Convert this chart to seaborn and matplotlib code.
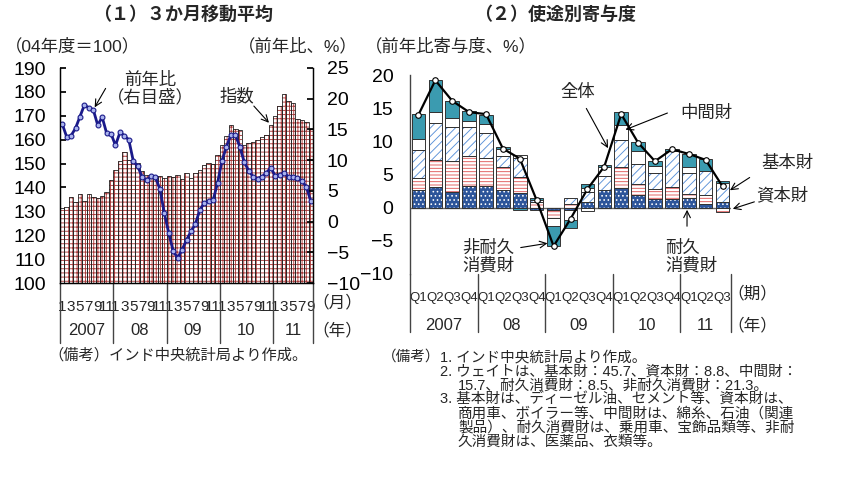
import numpy as np
import matplotlib
matplotlib.use("Agg")
import matplotlib.pyplot as plt
import matplotlib.transforms as mtransforms
import seaborn as sns

# ---- left panel: industrial production index (monthly, 2007/1 - 2011/9)
index_level = [131.4, 132.0, 136.2, 133.7, 137.1, 134.2, 137.2, 136.2, 135.5, 136.5, 137.9, 143.2,
               147.4, 150.9, 154.8, 151.6, 151.0, 150.2, 146.7, 145.3, 145.3, 144.6, 144.6, 143.9,
               144.6, 144.2, 145.0, 143.6, 146.1, 143.9, 146.1, 147.4, 149.5, 150.2, 150.0, 153.7,
               157.9, 161.6, 166.2, 164.4, 163.9, 157.9, 158.6, 159.0, 160.0, 161.3, 162.0, 166.2,
               170.0, 173.9, 179.2, 176.0, 175.3, 168.6, 168.3, 167.4, 164.4]
index_yoy = [15.9, 13.8, 14.0, 15.2, 17.1, 19.0, 18.5, 18.2, 15.7, 17.0, 14.4, 14.3,
             12.4, 14.5, 14.0, 13.3, 9.9, 9.0, 7.3, 6.7, 7.4, 7.2, 5.3, 1.4,
             -1.9, -4.8, -5.9, -4.6, -3.0, -1.6, -0.4, 1.9, 3.0, 3.3, 3.5, 6.3,
             9.9, 12.2, 14.1, 14.1, 12.2, 9.7, 8.3, 7.3, 7.0, 7.3, 7.9, 8.8,
             7.4, 7.6, 7.9, 7.3, 7.2, 7.1, 6.6, 5.7, 3.3]
month_ticks = ['1', '3', '5', '7', '9', '11']
years_left = ['2007', '08', '09', '10', '11']
months_per_year = [12, 12, 12, 12, 9]

# ---- right panel: contributions by use (quarterly, 2007Q1 - 2011Q3)
quarter_labels = ['Q1', 'Q2', 'Q3', 'Q4'] * 4 + ['Q1', 'Q2', 'Q3']
years_right = ['2007', '08', '09', '10', '11']
quarters_per_year = [4, 4, 4, 4, 3]
durable = [2.6, 3.1, 2.4, 3.3, 3.3, 2.6, 2.2, -0.3, -0.3, -0.3, 0.85, 2.7, 3.0, 1.95, 1.3, 1.3, 1.5, 0.55, 0.8]
capital = [1.8, 4.1, 4.7, 4.5, 4.2, 3.6, 2.4, 0.9, -1.25, 0.55, -0.55, 0.0, 3.1, 1.65, 1.5, 1.8, 0.5, 1.4, -0.6]
basic = [4.3, 5.55, 5.0, 4.35, 3.75, 1.6, 2.9, 0.2, 0.0, 0.9, 1.5, 2.1, 4.1, 3.0, 2.4, 5.4, 3.2, 3.65, 2.9]
intermediate = [1.6, 1.6, 1.4, 0.85, 1.4, 1.1, 0.4, 0.1, -1.15, -1.6, 0.6, 1.4, 2.2, 1.9, 1.1, 0.0, 0.9, 0.0, 0.0]
nondurable = [3.8, 4.95, 2.6, 1.5, 1.35, 0.2, -0.3, 0.3, -3.1, -1.15, 0.6, 0.2, 1.95, 1.35, 0.7, 0.3, 1.95, 1.7, 0.25]
total = [14.0, 19.2, 16.1, 14.4, 14.1, 8.9, 7.4, 1.1, -5.8, -1.7, 2.8, 6.2, 14.1, 9.8, 7.0, 8.8, 8.1, 7.2, 3.2]

W, H = 847, 486
sns.set_theme(style="white")
plt.rcParams['font.family'] = ['Liberation Sans', 'Noto Sans CJK JP']
plt.rcParams['hatch.linewidth'] = 0.65
plt.rcParams['axes.unicode_minus'] = True

fig = plt.figure(figsize=(W / 100, H / 100), dpi=100)


def box(x0, y0, x1, y1):
    # pixel box (top-left origin) -> figure fraction
    return [x0 / W, 1 - y1 / H, (x1 - x0) / W, (y1 - y0) / H]


def fp(x, y):
    return (x, H - y)


# ================= left panel =================
ax1 = fig.add_axes(box(60, 68, 313, 283))
xm = np.arange(len(index_level))
sns.barplot(x=xm, y=index_level, ax=ax1, color='white', width=1.0, saturation=1,
            edgecolor='#a83a3a', linewidth=0, hatch='++++', errorbar=None)
sns.barplot(x=xm, y=index_level, ax=ax1, color='#222222', width=1.0, fill=False,
            linewidth=0.6, errorbar=None)
ax1.set_ylim(100, 190)
ax1.set_xlim(-0.5, len(xm) - 0.5)
ax1.set_yticks(range(100, 191, 10))
ax1.set_xlabel('')
ax1.set_ylabel('')

ax1r = ax1.twinx()
sns.lineplot(x=xm, y=index_yoy, ax=ax1r, color='#1a1a8a', linewidth=2.0, marker='o',
             markersize=3.5, markerfacecolor='#aab4ee', markeredgecolor='#1a1a8a',
             markeredgewidth=0.8, sort=False, errorbar=None)
ax1r.set_ylim(-10, 25)
ax1r.set_yticks(range(-10, 26, 5))
ax1r.set_xlim(-0.5, len(xm) - 0.5)

for a in (ax1, ax1r):
    a.spines['top'].set_visible(False)
    for s in ('left', 'right', 'bottom'):
        a.spines[s].set_color('black')
        a.spines[s].set_linewidth(0.9)
ax1.tick_params(axis='y', direction='in', length=4, labelsize=14, pad=10, colors='black')
ax1r.tick_params(axis='y', direction='in', length=4, labelsize=14, pad=10, colors='black')

# month tick labels
mpos, mlab = [], []
start = 0
for n in months_per_year:
    for k, lab in enumerate(month_ticks):
        if 2 * k < n:
            mpos.append(start + 2 * k)
            mlab.append(lab)
    start += n
ax1.set_xticks(mpos)
ax1.set_xticklabels(mlab, fontsize=11)
ax1.tick_params(axis='x', length=0, pad=12)

tl = mtransforms.blended_transform_factory(ax1.transData, ax1.transAxes)
bounds = [-0.5]
for n in months_per_year:
    bounds.append(bounds[-1] + n)
for b in bounds:
    ax1.plot([b, b], [0, -0.28], transform=tl, clip_on=False, color='#444444', lw=1.0)
for i, y in enumerate(years_left):
    ax1.text((bounds[i] + bounds[i + 1]) / 2, -0.22, y, transform=tl, ha='center',
             va='center', fontsize=12)

fig.text(337 / W, 1 - 302 / H, '（月）', ha='center', va='center', fontsize=12)
fig.text(337 / W, 1 - 330 / H, '（年）', ha='center', va='center', fontsize=12)
fig.text(5 / W, 1 - 46 / H, '（04年度＝100）', ha='left', va='center', fontsize=12.5)
fig.text(358 / W, 1 - 46 / H, '（前年比、%）', ha='right', va='center', fontsize=12.5)
fig.text(183 / W, 1 - 15 / H, '（１）３か月移動平均', ha='center', va='center', fontsize=13,
         fontweight='bold')

fig.text(150 / W, 1 - 89 / H, '前年比\n（右目盛）', ha='center', va='center', fontsize=12.5,
         linespacing=1.05)
ax1r.annotate('', xy=(7, index_yoy[7]), xycoords='data', xytext=fp(107, 86),
              textcoords='figure pixels',
              arrowprops=dict(arrowstyle='->', color='black', lw=0.8))
fig.text(237 / W, 1 - 96 / H, '指数', ha='center', va='center', fontsize=12.5)
ax1.annotate('', xy=(47, index_level[47]), xycoords='data', xytext=fp(252, 104),
             textcoords='figure pixels',
             arrowprops=dict(arrowstyle='->', color='black', lw=0.8))

fig.text(48 / W, 1 - 355 / H, '（備考）インド中央統計局より作成。', ha='left', va='center',
         fontsize=11)

# ================= right panel =================
ax2 = fig.add_axes(box(410, 75, 731, 274))
xq = np.arange(len(total))
layers = [
    (durable, '#2d559a', '....', 'white'),
    (capital, 'white', '-----', '#e05a5a'),
    (basic, 'white', '////', '#5a92d8'),
    (intermediate, 'white', None, None),
    (nondurable, '#3b9bb0', None, None),
]
pos_base = np.zeros(len(xq))
neg_base = np.zeros(len(xq))
for vals, face, hatch, hcol in layers:
    v = np.array(vals, dtype=float)
    bottom = np.where(v >= 0, pos_base, neg_base)
    m = v != 0
    ax2.bar(xq[m], v[m], bottom=bottom[m], width=0.8, color=face, linewidth=0, zorder=2)
    if hatch:
        ax2.bar(xq[m], v[m], bottom=bottom[m], width=0.8, color='none', edgecolor=hcol,
                hatch=hatch, linewidth=0, zorder=2)
    ax2.bar(xq[m], v[m], bottom=bottom[m], width=0.8, color='none', edgecolor='#333333',
            linewidth=0.7, zorder=3)
    pos_base += np.where(v > 0, v, 0)
    neg_base += np.where(v < 0, v, 0)

ax2.axhline(0, color='#666666', lw=1.0, zorder=1)
sns.lineplot(x=xq, y=total, ax=ax2, color='black', linewidth=1.6, marker='o',
             markersize=4, markerfacecolor='white', markeredgecolor='black',
             markeredgewidth=0.8, sort=False, errorbar=None, zorder=5)
ax2.set_ylim(-10, 20)
ax2.set_xlim(-0.5, len(xq) - 0.5)
ax2.set_yticks(range(-10, 21, 5))
for s in ('top', 'right', 'bottom'):
    ax2.spines[s].set_visible(False)
ax2.spines['left'].set_color('#444444')
ax2.spines['left'].set_linewidth(1.0)
ax2.tick_params(axis='y', direction='in', length=4, labelsize=14, pad=12, colors='black')
ax2.set_xticks(xq)
ax2.set_xticklabels(quarter_labels, fontsize=9.5)
ax2.tick_params(axis='x', length=0, pad=13)
ax2.set_xlabel('')
ax2.set_ylabel('')

tr = mtransforms.blended_transform_factory(ax2.transData, ax2.transAxes)
qb = [-0.5]
for n in quarters_per_year:
    qb.append(qb[-1] + n)
for b in qb:
    ax2.plot([b, b], [0, -0.29], transform=tr, clip_on=False, color='#444444', lw=1.0)
for i, y in enumerate(years_right):
    ax2.text((qb[i] + qb[i + 1]) / 2, -0.26, y, transform=tr, ha='center', va='center',
             fontsize=12)
fig.text(752 / W, 1 - 293 / H, '（期）', ha='center', va='center', fontsize=12)
fig.text(752 / W, 1 - 325 / H, '（年）', ha='center', va='center', fontsize=12)
fig.text(365 / W, 1 - 46 / H, '（前年比寄与度、%）', ha='left', va='center', fontsize=12.5)
fig.text(555 / W, 1 - 15 / H, '（２）使途別寄与度', ha='center', va='center', fontsize=13,
         fontweight='bold')

arrow = dict(arrowstyle='->', color='black', lw=0.8)
fig.text(578 / W, 1 - 92 / H, '全体', ha='center', va='center', fontsize=12.5)
ax2.annotate('', xy=(11.3, 8.6), xytext=fp(585, 106), textcoords='figure pixels',
             arrowprops=arrow)
fig.text(706 / W, 1 - 113 / H, '中間財', ha='center', va='center', fontsize=12.5)
ax2.annotate('', xy=(12.1, 11.6), xytext=fp(670, 112), textcoords='figure pixels',
             arrowprops=arrow)
fig.text(787 / W, 1 - 163 / H, '基本財', ha='center', va='center', fontsize=12.5)
ax2.annotate('', xy=(18.3, 2.4), xytext=fp(752, 176), textcoords='figure pixels',
             arrowprops=arrow)
fig.text(782 / W, 1 - 195 / H, '資本財', ha='center', va='center', fontsize=12.5)
ax2.annotate('', xy=(18.45, -0.3), xytext=fp(757, 201), textcoords='figure pixels',
             arrowprops=arrow)
fig.text(665 / W, 1 - 257 / H, '耐久\n消費財', ha='left', va='center', fontsize=12.5,
         linespacing=1.1)
ax2.annotate('', xy=(15.9, 0.1), xytext=fp(687, 229), textcoords='figure pixels',
             arrowprops=arrow)
fig.text(462 / W, 1 - 257 / H, '非耐久\n消費財', ha='left', va='center', fontsize=12.5,
         linespacing=1.1)
ax2.annotate('', xy=(7.8, -5.3), xytext=fp(518, 248), textcoords='figure pixels',
             arrowprops=arrow)

# notes
fig.text(382 / W, 1 - 357 / H, '（備考）', ha='left', va='center', fontsize=10.5)
notes = [
    (440, 357, '1. インド中央統計局より作成。'),
    (440, 372, '2. ウェイトは、基本財：45.7、資本財：8.8、中間財：'),
    (458, 386, '15.7、耐久消費財：8.5、非耐久消費財：21.3。'),
    (440, 400, '3. 基本財は、ディーゼル油、セメント等、資本財は、'),
    (458, 414, '商用車、ボイラー等、中間財は、綿糸、石油（関連'),
    (458, 428, '製品）、耐久消費財は、乗用車、宝飾品類等、非耐'),
    (458, 442, '久消費財は、医薬品、衣類等。'),
]
for x, y, t in notes:
    fig.text(x / W, 1 - y / H, t, ha='left', va='center', fontsize=10.5)

fig.savefig('out.png', dpi=100)
